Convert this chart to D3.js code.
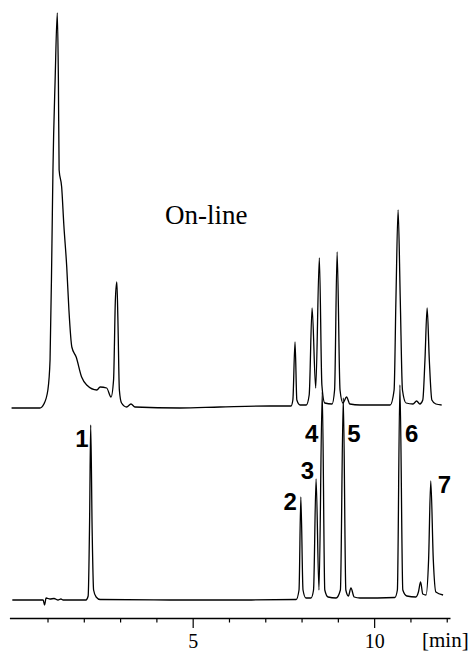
<!DOCTYPE html>
<html>
<head>
<meta charset="utf-8">
<script src="https://cdn.jsdelivr.net/npm/d3@7"></script>
<style>
  body { margin: 0; background: #fff; }
  svg { display: block; }
  .trace { fill: none; stroke: #000; stroke-width: 1.3; stroke-linejoin: round; }
  .peak-label { font-family: "Liberation Sans", Arial, sans-serif; font-weight: bold; font-size: 24px; }
  .serif { font-family: "Liberation Serif", "Times New Roman", serif; }
</style>
</head>
<body>
<svg width="471" height="653"></svg>
<script>
// retention time [min] and detector response (arbitrary units)
const onlineTime = [0.01, 0.79, 0.90, 1.01, 1.07, 1.12, 1.15, 1.21, 1.27, 1.30, 1.32, 1.39, 1.45, 1.53, 1.59,
    1.67, 1.79, 1.94, 2.08, 2.36, 2.45, 2.63, 2.75, 2.82, 2.87, 2.91, 2.94, 2.98, 3.04, 3.18, 3.30, 3.41,
    4.65, 5.75, 7.13, 7.71, 7.76, 7.82, 7.87, 7.96, 8.13, 8.21, 8.29, 8.39, 8.49, 8.56, 8.64, 8.84, 8.91,
    8.98, 9.06, 9.14, 9.24, 9.33, 9.61, 10.44, 10.55, 10.60, 10.66, 10.72, 10.78, 10.88, 11.07, 11.17,
    11.26, 11.34, 11.40, 11.46, 11.52, 11.59, 11.70, 11.86];
const onlineSignal = [0, 0, 4, 18, 48, 158, 238, 328, 395, 328, 238, 221, 183, 141, 98,
    61, 51, 31, 23, 18, 21, 20, 11, 28, 108, 126, 88, 18, 5, 1, 4, 1,
    0, 1, 2, 2, 8, 66, 8, 3, 3, 13, 100, 20, 150, 23, 5, 4, 18,
    156, 18, 5, 11, 4, 3, 3, 18, 108, 198, 108, 18, 5, 4, 7,
    4, 8, 48, 100, 48, 8, 4, 3];

const standardTime = [0.03, 0.88, 0.92, 0.96, 1.07, 1.18, 1.29, 1.37, 1.43, 2.06, 2.12, 2.16, 2.19, 2.23,
    2.27, 2.34, 2.45, 4.37, 6.30, 7.85, 7.93, 7.98, 8.04, 8.12, 8.26, 8.33, 8.40, 8.48, 8.57, 8.64, 8.73,
    8.95, 9.07, 9.15, 9.22, 9.29, 9.36, 9.45, 9.61, 10.57, 10.64, 10.71, 10.79, 10.90, 11.15, 11.22,
    11.28, 11.34, 11.43, 11.50, 11.56, 11.63, 11.70, 11.90];
const standardSignal = [0, 0, -5, 2, 1, 1.5, 0, 1, 0, 0, 4, 80, 175, 70,
    10, 3, 0.5, 0, 0, 0.5, 10, 103, 10, 2, 2, 10, 121, 10, 208, 10, 3,
    2, 10, 202, 10, 4, 12, 3, 2, 2.5, 10, 215, 10, 4, 3, 8,
    18, 6, 5, 40, 119, 40, 8, 5];

const peakNames = ["1", "2", "3", "4", "5", "6", "7"];
const peakTimes = [2.19, 7.98, 8.40, 8.57, 9.15, 10.71, 11.56];

const tickValues = [1, 2, 3, 4, 5, 6, 7, 8, 9, 10, 11, 12];
const labelledTicks = [5, 10];
const onlineOffset = 192;

const svg = d3.select("svg");

const x = d3.scaleLinear().domain([-0.05, 12.09]).range([9.4, 450]);
const y = d3.scaleLinear().domain([0, 590]).range([600, 10]);

const line = d3.line()
    .x(d => d[0])
    .y(d => d[1])
    .curve(d3.curveMonotoneX);

const onlinePts = onlineTime.map((t, i) => [x(t), y(onlineSignal[i] + onlineOffset)]);
const standardPts = standardTime.map((t, i) => [x(t), y(standardSignal[i])]);

svg.append("path").attr("class", "trace").attr("d", line(standardPts));
svg.append("path").attr("class", "trace").attr("d", line(onlinePts));

// peak numbers: where they sit relative to each peak
const labelPlace = [
    { dx: -2, anchor: "end", y: 447 },
    { dx: -4, anchor: "end", y: 510 },
    { dx: -2, anchor: "end", y: 479 },
    { dx: -4, anchor: "end", y: 442 },
    { dx: 4, anchor: "start", y: 442 },
    { dx: 5, anchor: "start", y: 442 },
    { dx: 7, anchor: "start", y: 493 }
];

svg.selectAll(".peak-label")
    .data(peakNames)
    .enter().append("text")
    .attr("class", "peak-label")
    .attr("x", (d, i) => x(peakTimes[i]) + labelPlace[i].dx)
    .attr("y", (d, i) => labelPlace[i].y)
    .attr("text-anchor", (d, i) => labelPlace[i].anchor)
    .text(d => d);

svg.append("text")
    .attr("class", "serif")
    .attr("x", 165)
    .attr("y", 224)
    .attr("font-size", 27)
    .text("On-line");

// time axis
const axis = d3.axisBottom(x)
    .tickValues(tickValues)
    .tickSizeInner(4.5)
    .tickSizeOuter(0)
    .tickFormat(d => labelledTicks.includes(d) ? d : "");

const gx = svg.append("g")
    .attr("transform", "translate(0,618)")
    .call(axis);

gx.select(".domain").attr("stroke-width", 1.3);
gx.selectAll(".tick line").attr("stroke-width", 1.2)
    .attr("y2", d => labelledTicks.includes(d) ? 10 : 4.5);
gx.selectAll(".tick text")
    .attr("class", "serif")
    .attr("font-size", 20)
    .attr("dy", null)
    .attr("y", 30)
    .attr("fill", "#000");

svg.append("text")
    .attr("class", "serif")
    .attr("x", 422)
    .attr("y", 647)
    .attr("font-size", 21)
    .text("[min]");
</script>
</body>
</html>
